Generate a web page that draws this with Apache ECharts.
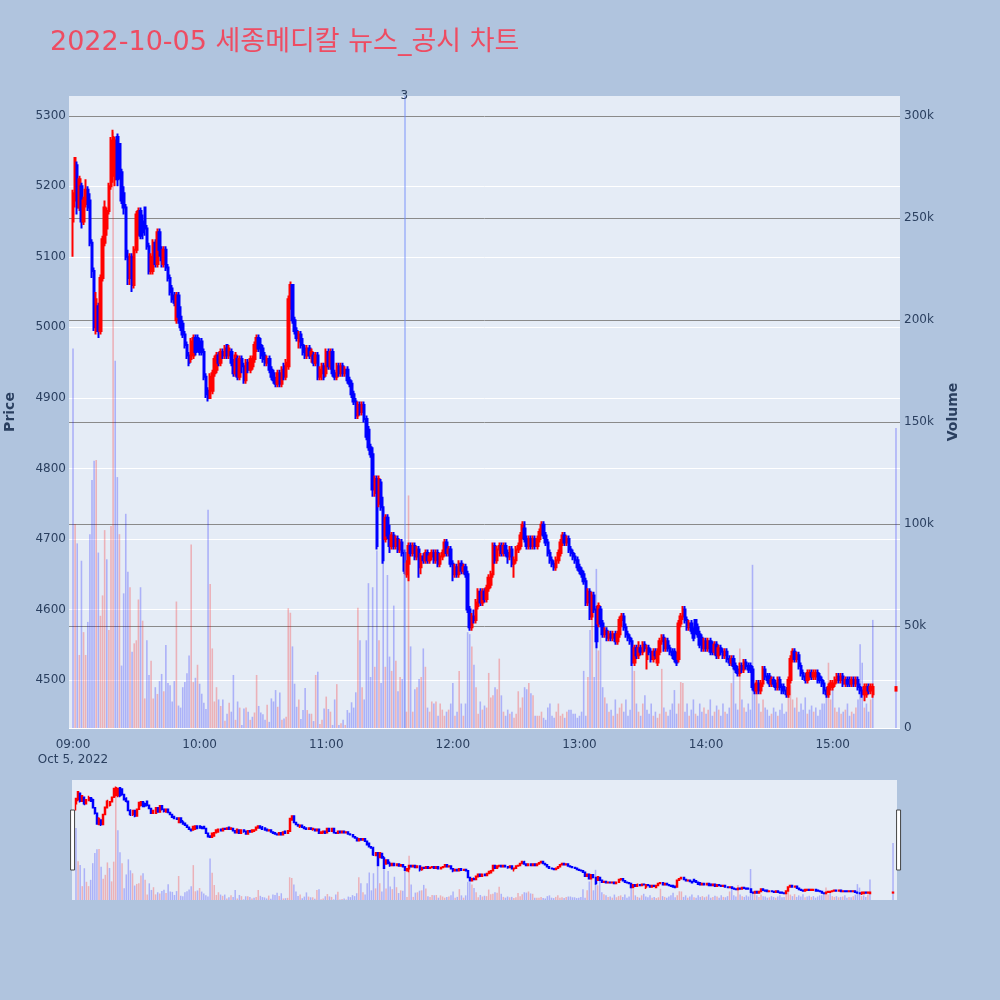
<!DOCTYPE html>
<html>
<head>
<meta charset="utf-8">
<script src="https://cdn.jsdelivr.net/npm/echarts@6/dist/echarts.min.js"></script>
<style>
html,body{margin:0;padding:0;background:#b0c4de;}
#chart{width:1000px;height:1000px;}
</style>
</head>
<body>
<div id="chart"></div>
<script>
const titleText = '2022-10-05 세종메디칼 뉴스_공시 차트';
const dateLabel = 'Oct 5, 2022';

function pad(n) { return (n < 10 ? '0' : '') + n; }
// one candle per minute 09:00 ~ 15:19, then the 15:30 closing auction
const times = [];
for (let i = 0; i < 380; i++) { const t = 540 + i; times.push(pad(Math.floor(t / 60)) + ':' + pad(t % 60)); }
times.push('15:30');

const opens = [
5150,5180,5230,5170,5200,5150,5175,5195,5180,5120, 5080,4995,5030,4995,5070,5120,5140,5165,5200,5215,
5210,5270,5260,5220,5190,5170,5100,5070,5100,5060, 5110,5140,5165,5150,5170,5140,5115,5080,5080,5120,
5090,5135,5110,5090,5110,5085,5070,5055,5045,5010, 5045,5015,5005,4990,4975,4960,4955,4960,4985,4985,
4975,4980,4965,4930,4910,4900,4910,4935,4940,4960, 4950,4965,4960,4975,4960,4965,4950,4935,4955,4930,
4955,4945,4925,4950,4940,4945,4955,4970,4985,4975, 4970,4960,4950,4955,4940,4935,4925,4920,4935,4920,
4945,4930,4945,5030,5060,5010,4995,4980,4990,4975, 4970,4960,4970,4960,4960,4950,4960,4930,4935,4945,
4935,4965,4945,4965,4935,4930,4945,4935,4945,4935, 4940,4925,4920,4905,4895,4875,4890,4880,4890,4870,
4855,4830,4820,4765,4785,4750,4780,4745,4700,4730, 4705,4690,4705,4690,4700,4685,4695,4680,4650,4665,
4690,4680,4690,4675,4685,4660,4675,4670,4680,4670, 4675,4680,4670,4680,4665,4675,4680,4695,4680,4685,
4665,4650,4660,4650,4665,4655,4660,4650,4600,4575, 4590,4585,4605,4625,4610,4625,4615,4630,4635,4650,
4690,4670,4685,4690,4680,4690,4680,4675,4685,4665, 4670,4685,4690,4705,4715,4700,4690,4700,4690,4700,
4690,4700,4710,4720,4705,4695,4680,4670,4665,4660, 4670,4680,4695,4705,4695,4700,4685,4680,4675,4670,
4660,4655,4650,4640,4610,4625,4590,4620,4600,4580, 4600,4580,4565,4570,4560,4565,4560,4565,4555,4565,
4585,4590,4575,4565,4560,4555,4525,4545,4535,4545, 4540,4550,4530,4545,4540,4530,4540,4525,4540,4555,
4560,4545,4555,4545,4540,4540,4535,4530,4580,4590, 4600,4585,4575,4580,4570,4585,4575,4565,4560,4545,
4555,4545,4555,4550,4540,4550,4535,4545,4540,4535, 4540,4530,4525,4530,4520,4515,4510,4520,4515,4525,
4520,4520,4515,4490,4485,4495,4485,4495,4515,4505, 4505,4495,4500,4495,4490,4500,4490,4490,4485,4480,
4500,4530,4540,4530,4535,4520,4510,4505,4500,4505, 4510,4505,4505,4510,4505,4500,4495,4485,4480,4490,
4490,4495,4500,4505,4500,4505,4495,4500,4500,4495, 4500,4495,4500,4490,4485,4480,4480,4490,4485,4480,
4485
];
const closes = [
5190,5240,5170,5210,5150,5180,5195,5170,5120,5080, 5000,5040,4995,5070,5125,5170,5165,5200,5265,5270,
5265,5210,5220,5180,5170,5100,5070,5100,5060,5110, 5160,5165,5130,5135,5140,5115,5080,5100,5120,5090,
5135,5110,5095,5110,5085,5070,5050,5040,5035,5045, 5015,5000,4990,4975,4960,4950,4980,4985,4965,4970,
4965,4965,4930,4905,4900,4930,4935,4955,4960,4950, 4965,4960,4970,4960,4970,4950,4935,4960,4930,4955,
4945,4925,4950,4940,4955,4955,4975,4985,4970,4960, 4955,4950,4955,4940,4930,4925,4920,4935,4920,4940,
4930,4950,5040,5060,5010,4995,4985,4990,4975,4965, 4960,4970,4960,4965,4950,4960,4930,4940,4945,4930,
4965,4945,4965,4935,4930,4945,4935,4945,4935,4940, 4925,4920,4905,4895,4875,4890,4880,4890,4870,4845,
4830,4820,4770,4785,4690,4785,4745,4670,4730,4705, 4690,4705,4690,4700,4685,4695,4680,4655,4665,4690,
4680,4690,4675,4685,4660,4675,4670,4680,4670,4675, 4680,4670,4680,4665,4675,4680,4695,4680,4685,4665,
4650,4660,4650,4665,4655,4660,4650,4600,4575,4590, 4585,4610,4625,4610,4625,4615,4630,4645,4650,4690,
4670,4685,4690,4680,4690,4680,4675,4685,4665,4670, 4685,4690,4705,4720,4700,4690,4700,4690,4700,4690,
4700,4710,4720,4705,4695,4680,4670,4665,4660,4670, 4680,4695,4705,4695,4700,4685,4680,4675,4670,4660,
4655,4650,4640,4610,4625,4590,4620,4600,4555,4605, 4580,4565,4570,4560,4565,4560,4565,4555,4565,4585,
4590,4575,4565,4560,4555,4525,4545,4535,4545,4540, 4550,4545,4545,4540,4530,4540,4535,4540,4555,4560,
4545,4555,4545,4540,4535,4530,4525,4580,4590,4600, 4585,4575,4580,4570,4560,4570,4565,4550,4545,4555,
4545,4555,4540,4540,4550,4535,4545,4540,4535,4540, 4530,4525,4530,4520,4515,4510,4520,4515,4525,4520,
4515,4515,4490,4485,4495,4485,4495,4515,4505,4500, 4495,4500,4495,4490,4500,4490,4485,4485,4480,4500,
4530,4540,4530,4535,4520,4510,4505,4500,4510,4510, 4505,4510,4510,4500,4500,4495,4485,4480,4490,4495,
4495,4500,4505,4500,4505,4495,4500,4495,4495,4500, 4495,4500,4490,4485,4480,4490,4490,4485,4490,4490,
4490
];
const lows = [
5100,5170,5160,5165,5140,5145,5170,5165,5115,5070, 4995,4990,4985,4990,5065,5115,5130,5160,5195,5205,
5200,5200,5210,5175,5160,5095,5060,5060,5050,5055, 5105,5130,5125,5125,5130,5110,5075,5075,5075,5085,
5085,5100,5085,5085,5080,5065,5045,5035,5030,5005, 5005,4995,4985,4970,4955,4945,4950,4955,4960,4965,
4960,4960,4925,4900,4895,4900,4905,4930,4935,4945, 4945,4955,4955,4955,4955,4945,4930,4930,4925,4925,
4935,4920,4920,4935,4935,4940,4950,4965,4965,4955, 4950,4945,4945,4935,4925,4920,4915,4915,4915,4915,
4925,4925,4940,5025,5005,4990,4980,4970,4970,4960, 4955,4955,4955,4950,4945,4945,4925,4925,4925,4925,
4930,4940,4940,4930,4925,4925,4930,4930,4930,4930, 4920,4915,4900,4890,4870,4870,4875,4875,4865,4840,
4825,4815,4760,4760,4685,4745,4740,4665,4695,4700, 4680,4685,4685,4685,4680,4680,4675,4650,4645,4640,
4675,4675,4670,4670,4645,4650,4665,4665,4665,4665, 4670,4665,4665,4660,4660,4670,4675,4675,4675,4660,
4640,4645,4645,4645,4650,4650,4645,4595,4570,4570, 4580,4580,4600,4605,4605,4610,4610,4625,4630,4645,
4665,4665,4675,4675,4675,4675,4665,4670,4660,4645, 4665,4680,4685,4700,4695,4685,4685,4685,4685,4685,
4685,4695,4705,4700,4690,4675,4665,4660,4655,4655, 4665,4675,4690,4690,4690,4680,4675,4670,4665,4655,
4650,4645,4635,4605,4605,4585,4585,4595,4545,4575, 4575,4560,4560,4555,4555,4555,4555,4550,4550,4560,
4575,4570,4560,4555,4550,4520,4520,4530,4530,4535, 4535,4540,4515,4535,4525,4525,4530,4520,4535,4550,
4540,4540,4540,4535,4530,4525,4520,4525,4575,4585, 4580,4570,4570,4565,4555,4565,4560,4545,4540,4540,
4540,4540,4535,4535,4535,4530,4530,4535,4530,4530, 4525,4520,4520,4515,4510,4505,4505,4510,4510,4515,
4510,4510,4485,4480,4480,4480,4480,4490,4500,4495, 4490,4490,4490,4485,4485,4485,4480,4480,4475,4475,
4495,4525,4525,4525,4515,4505,4500,4495,4495,4500, 4500,4500,4500,4495,4495,4490,4480,4475,4475,4485,
4485,4490,4495,4495,4495,4490,4490,4490,4490,4490, 4490,4490,4485,4480,4475,4470,4475,4480,4480,4475,
4485
];
const highs = [
5195,5240,5235,5215,5205,5185,5210,5200,5190,5125, 5085,5050,5035,5075,5130,5180,5170,5205,5270,5280,
5270,5275,5260,5225,5200,5175,5110,5105,5105,5115, 5165,5170,5170,5160,5170,5145,5120,5105,5125,5125,
5140,5140,5115,5115,5115,5090,5075,5060,5050,5050, 5050,5030,5010,4995,4980,4965,4985,4990,4990,4990,
4985,4985,4970,4935,4915,4935,4940,4960,4965,4965, 4970,4970,4975,4975,4975,4970,4955,4965,4960,4960,
4960,4950,4955,4955,4960,4960,4980,4990,4990,4985, 4975,4965,4960,4960,4945,4940,4930,4940,4940,4945,
4950,4955,5045,5065,5060,5015,5000,4995,4995,4985, 4975,4975,4975,4970,4965,4965,4965,4945,4950,4950,
4970,4970,4970,4970,4940,4950,4950,4950,4950,4945, 4945,4930,4925,4910,4900,4895,4895,4895,4895,4875,
4860,4835,4830,4790,4790,4790,4785,4760,4735,4735, 4720,4710,4710,4705,4705,4700,4700,4685,4670,4695,
4695,4695,4695,4690,4690,4680,4680,4685,4685,4680, 4685,4685,4685,4685,4680,4685,4700,4700,4690,4690,
4670,4665,4665,4670,4670,4665,4665,4655,4605,4595, 4600,4615,4630,4630,4630,4630,4635,4650,4655,4695,
4695,4690,4695,4695,4695,4695,4685,4690,4690,4675, 4690,4695,4710,4725,4725,4705,4705,4705,4705,4705,
4705,4715,4725,4725,4710,4700,4685,4675,4670,4675, 4685,4700,4710,4710,4705,4705,4690,4685,4680,4675,
4665,4660,4655,4645,4630,4630,4625,4625,4605,4610, 4605,4585,4575,4575,4570,4570,4570,4570,4570,4590,
4595,4595,4580,4570,4565,4560,4550,4550,4555,4550, 4555,4555,4550,4550,4545,4545,4545,4545,4560,4565,
4565,4560,4560,4550,4545,4545,4540,4585,4595,4605, 4605,4590,4585,4585,4575,4585,4580,4570,4565,4560,
4560,4560,4560,4555,4555,4555,4550,4550,4545,4545, 4545,4535,4535,4535,4525,4520,4525,4525,4530,4530,
4525,4525,4520,4495,4500,4500,4500,4520,4520,4510, 4510,4505,4505,4500,4505,4505,4495,4495,4490,4505,
4535,4545,4545,4540,4540,4525,4515,4510,4515,4515, 4515,4515,4515,4515,4510,4505,4500,4490,4495,4500,
4500,4505,4510,4510,4510,4510,4505,4505,4505,4505, 4505,4505,4505,4495,4490,4495,4495,4495,4495,4495,
4490
];
// volume in thousands of shares
const volumeThousands = [
186,100,90.5,35.8,82,47,35.8,52,95,121.6, 131,131.4,86,55,65,97,82.7,48,99,292,
180,123,95,30.6,66,105,76.6,69,37.4,41.5, 43,63,69,52.6,14.5,43,26,33,14.5,20,
16.7,23,26.5,18,40.7,22,21,13,23,62, 11,10,20,22.5,26.8,35.5,90,22.5,24.6,31,
21.7,16.8,12.4,9.3,107,70.6,39,13,20,14, 10.8,14,3.6,7,12.4,8,26,4,13,10,
1.5,9.6,10,8,4,5.5,7.6,26,10.8,7.6, 6.7,4,11.4,3,14.5,13,18.6,10.4,17.4,4,
4.7,5.5,58.7,56.5,40,21.7,10.4,14,4.4,8.8, 19.6,8.8,7,7,3.4,26,27.6,2,4,9.6,
15.4,9.3,8,1.5,14,21.5,1.5,2.3,4,1.5, 8.8,7.5,12.6,10,17.5,59,43,
20,14,43,71,25,69,30,87,43,22, 82,30,75,35,28,60,33,18,25,24,
75,8,114,40,8,19,20,24,25,39, 30,10,8,13,12,13,6,12,9,6,
8,9,12,22,6,8,28,12,6,12, 47,46,40,31,20,7,13,9,11,10,
27,15,16,20,19,34,16,8,6,9, 7,8,5,7,18,10,15,20,19,22,
17,16,6,6,6,8,5,4,10,12, 6,5,8,12,6,7,5,8,9,9,
7,7,5,6,8,28,6,25,48,63, 25,78,38,53,20,15,12,8,9,6,
14,7,10,12,8,14,6,9,33,28, 12,8,6,12,16,9,7,12,6,8,
5,7,29,10,8,6,9,12,18.6,7, 12,22.5,22,8,12,6,9,14,7,6,
12,8,10,7,9,14,6,8,11,9, 6,12,8,7,10,22,33,12,9,39,
14,10,8,12,9,80,18,22,12,8, 14,10,9,6,7,10,8,6,9,12,
7,8,16,21,14,10,15,8,12,9, 15,7,9,11,8,10,6,9,12,12,
18,32,14,22,10,8,10,7,8,9, 12,6,8,7,10,14,41,32,10,12,
8,14,53,
147
];
const priceTicks = [4500, 4600, 4700, 4800, 4900, 5000, 5100, 5200, 5300];
const volumeTicks = [0, 50, 100, 150, 200, 250, 300];
const timeTicks = ['09:00', '10:00', '11:00', '12:00', '13:00', '14:00', '15:00'];
const newsTimes = ['11:37'];
const newsCounts = [3];

function toMin(s) { const p = s.split(':'); return (+p[0]) * 60 + (+p[1]) - 540; }
function minToLabel(v) { const t = Math.round(v) + 540; return pad(Math.floor(t / 60)) + ':' + pad(t % 60); }

const candleData = times.map((t, i) => [toMin(t), opens[i], closes[i], lows[i], highs[i]]);
const volColor = (i) => (i > 0 && closes[i] > closes[i - 1]) ? 'rgba(255,0,0,0.25)' : 'rgba(0,0,255,0.25)';
const volumeData = times.map((t, i) => ({ value: [toMin(t), volumeThousands[i]], itemStyle: { color: volColor(i) } }));

const X_MIN = -1.9, X_MAX = 391.9;
const P_MIN = 4432, P_MAX = 5328;
const V_MIN = 0, V_MAX = 309.8;
const txt = '#2a3f5f';
const font = "'DejaVu Sans', 'Noto Sans CJK KR', sans-serif";

const candleStyle = { color: '#ff0000', color0: '#0000ff', borderColor: '#ff0000', borderColor0: '#0000ff', borderWidth: 2 };
const miniCandleStyle = { color: '#ff0000', color0: '#0000ff', borderColor: '#ff0000', borderColor0: '#0000ff', borderWidth: 1.5 };

const chart = echarts.init(document.getElementById('chart'), null, { renderer: 'canvas' });
chart.setOption({
  animation: false,
  backgroundColor: '#b0c4de',
  title: {
    text: titleText, left: 45, top: 24,
    textStyle: { color: '#ee4c62', fontSize: 27, fontWeight: 'normal', fontFamily: font }
  },
  grid: [
    { left: 69, right: 100, top: 96, height: 632, show: true, backgroundColor: '#e5ecf6', borderWidth: 0, containLabel: false, outerBoundsMode: 'none' },
    { left: 72, right: 103, top: 780, height: 120, show: true, backgroundColor: '#e5ecf6', borderWidth: 0, containLabel: false, outerBoundsMode: 'none' }
  ],
  xAxis: [
    {
      type: 'value', gridIndex: 0, min: X_MIN, max: X_MAX,
      axisLine: { show: false }, axisTick: { show: false, customValues: timeTicks.map(toMin) },
      splitLine: { show: false },
      axisLabel: {
        customValues: timeTicks.map(toMin), color: txt, fontSize: 12, fontFamily: font, margin: 9, lineHeight: 15,
        formatter: (v) => v === 0 ? minToLabel(v) + '\n' + dateLabel : minToLabel(v)
      }
    },
    {
      type: 'value', gridIndex: 1, min: X_MIN, max: X_MAX, show: false,
      axisLine: { show: false }, axisTick: { show: false }, splitLine: { show: false }, axisLabel: { show: false }
    }
  ],
  yAxis: [
    {
      type: 'value', gridIndex: 0, position: 'left', min: P_MIN, max: P_MAX,
      name: 'Price', nameLocation: 'middle', nameGap: 52, nameRotate: 90,
      nameTextStyle: { color: txt, fontSize: 14, fontWeight: 'bold', fontFamily: font },
      axisLine: { show: false }, axisTick: { show: false, customValues: priceTicks },
      axisLabel: { customValues: priceTicks, color: txt, fontSize: 12, fontFamily: font, margin: 3,
        formatter: (v) => String(v) },
      splitLine: { show: true, lineStyle: { color: '#ffffff', width: 1 } }
    },
    {
      type: 'value', gridIndex: 0, position: 'right', min: V_MIN, max: V_MAX,
      name: 'Volume', nameLocation: 'middle', nameGap: 46, nameRotate: 90,
      nameTextStyle: { color: txt, fontSize: 14, fontWeight: 'bold', fontFamily: font },
      axisLine: { show: false }, axisTick: { show: false, customValues: volumeTicks },
      axisLabel: { customValues: volumeTicks, color: txt, fontSize: 12, fontFamily: font, margin: 4,
        formatter: (v) => v === 0 ? '0' : v + 'k' },
      splitLine: { show: true, lineStyle: { color: ['#ffffff', '#8a8a8a', '#8a8a8a', '#8a8a8a', '#8a8a8a', '#8a8a8a', '#8a8a8a'], width: 1 } }
    },
    { type: 'value', gridIndex: 1, min: P_MIN, max: P_MAX, show: false, splitLine: { show: false } },
    { type: 'value', gridIndex: 1, min: V_MIN, max: V_MAX, show: false, splitLine: { show: false } }
  ],
  dataZoom: [{
    type: 'slider', xAxisIndex: 0, filterMode: 'none', start: 0, end: 100,
    left: 71, right: 101, top: 780, height: 120,
    backgroundColor: 'rgba(0,0,0,0)', borderColor: 'rgba(0,0,0,0)', fillerColor: 'rgba(0,0,0,0)',
    showDataShadow: false, showDetail: false, brushSelect: false, moveHandleSize: 0,
    moveHandleStyle: { opacity: 0 },
    handleIcon: 'path://M0,0H4V60H0Z', handleSize: '50%',
    handleStyle: { color: '#ffffff', borderColor: '#444444', borderWidth: 1 },
    emphasis: { handleStyle: { color: '#ffffff', borderColor: '#444444', borderWidth: 1 }, moveHandleStyle: { opacity: 0 } }
  }],
  series: [
    {
      type: 'bar', name: 'Volume', xAxisIndex: 0, yAxisIndex: 1, barWidth: 1.6, z: 2,
      data: volumeData,
      markLine: {
        silent: true, symbol: ['none', 'none'], animation: false,
        lineStyle: { color: 'rgba(110,140,250,0.45)', width: 2, type: 'solid' },
        label: { show: true, position: 'end', formatter: '{b}', color: txt, fontSize: 12, fontFamily: font, distance: -6 },
        data: newsTimes.map((t, i) => ({ xAxis: toMin(t), name: String(newsCounts[i]) }))
      }
    },
    {
      type: 'candlestick', name: 'Price', xAxisIndex: 0, yAxisIndex: 0, barWidth: 2, z: 3,
      encode: { x: 0, y: [1, 2, 3, 4] }, itemStyle: candleStyle, data: candleData
    },
    {
      type: 'bar', xAxisIndex: 1, yAxisIndex: 3, barWidth: 1.5, z: 2, silent: true,
      data: volumeData
    },
    {
      type: 'candlestick', xAxisIndex: 1, yAxisIndex: 2, barWidth: 1.5, z: 3, silent: true,
      encode: { x: 0, y: [1, 2, 3, 4] }, itemStyle: miniCandleStyle, data: candleData
    }
  ]
});
</script>
</body>
</html>
